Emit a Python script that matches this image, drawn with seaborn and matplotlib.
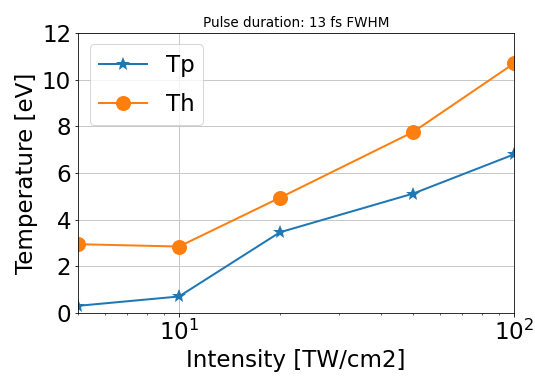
import matplotlib
matplotlib.use("Agg")
import matplotlib.pyplot as plt
import seaborn as sns
import pandas as pd

# intensity in TW/cm2, temperatures in eV
intensity = [5, 10, 20, 50, 100]
tp = [0.31, 0.71, 3.46, 5.12, 6.80]
th = [2.95, 2.85, 4.94, 7.76, 10.70]

df = pd.DataFrame({"Intensity": intensity, "Tp": tp, "Th": th})

fig = plt.figure(figsize=(535 / 72, 379 / 72), dpi=72)
ax = fig.add_axes([0.146, 0.174, 0.815, 0.739])

sns.lineplot(data=df, x="Intensity", y="Tp", marker="*", markersize=15,
             markeredgewidth=0, color="#1f77b4", linewidth=2, label="Tp", ax=ax)
sns.lineplot(data=df, x="Intensity", y="Th", marker="o", markersize=15,
             markeredgewidth=0, color="#ff7f0e", linewidth=2, label="Th", ax=ax)

ax.set_xscale("log")
ax.set_xlim(5, 100)
ax.set_ylim(0, 12)
ax.grid(True, which="major", color="#c8c8c8", linewidth=1)
ax.set_axisbelow(True)
ax.tick_params(axis="both", which="major", labelsize=23)
ax.set_xlabel("Intensity [TW/cm2]", fontsize=23)
ax.set_ylabel("Temperature [eV]", fontsize=23)
ax.set_title("Pulse duration: 13 fs FWHM", fontsize=13.5)
ax.legend(fontsize=23, loc="upper left", labelspacing=0.7, handlelength=2.1)

fig.savefig("out.png", dpi=72)
